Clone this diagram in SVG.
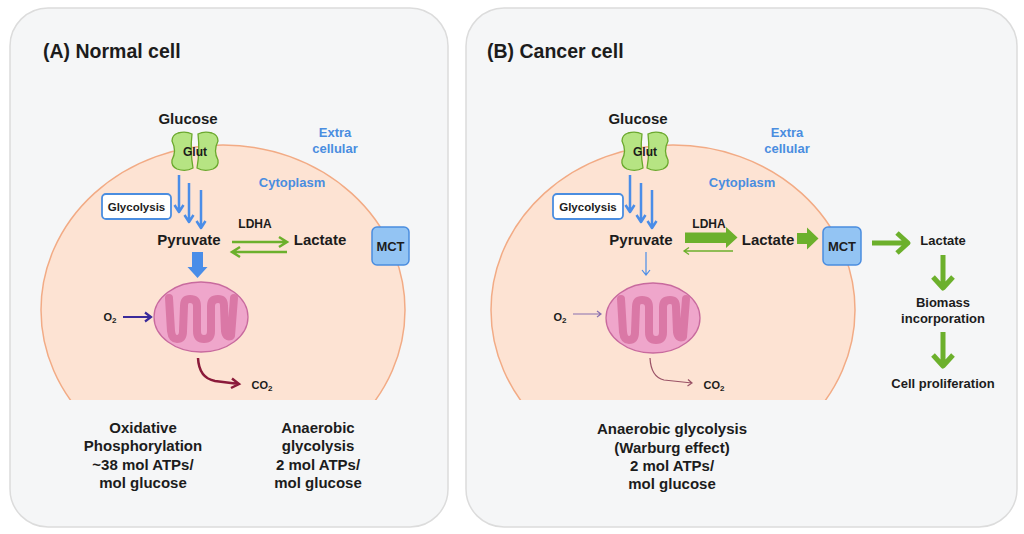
<svg xmlns="http://www.w3.org/2000/svg" width="1024" height="534" viewBox="0 0 1024 534">
<defs>
<style>
text{font-family:"Liberation Sans",Arial,sans-serif;font-weight:bold;fill:#1c1c1c;text-anchor:middle}
.title{font-size:19.5px;text-anchor:start}
.big{font-size:15px}
.med{font-size:13px}
.sm{font-size:12px}
.xs{font-size:11px}
.blue{fill:#4a8de0}
.panel{fill:#f5f6f7;stroke:#dcdcdc;stroke-width:1.5}
.cell{fill:#fde3d3;stroke:#f2ab85;stroke-width:1.5}
.box{fill:#ffffff;stroke:#4a8de0;stroke-width:1.8}
.mct{fill:#93c4f3;stroke:#4a8de0;stroke-width:1.5}
.ba{fill:none;stroke:#4a8de8;stroke-width:2.5;stroke-linejoin:round}
.bat{fill:none;stroke:#4a8de8;stroke-width:1.2}
.ga{fill:none;stroke:#6cb02c;stroke-width:2.5}
.gat{fill:none;stroke:#6cb02c;stroke-width:1.3}
.gthick{fill:none;stroke:#6cb02c;stroke-width:5;stroke-linejoin:round}
.gblock{fill:#6cb02c}
.bblock{fill:#4a8de8}
.o2{fill:none;stroke:#3a2a9a;stroke-width:2.2}
.o2t{fill:none;stroke:#8a70b0;stroke-width:1.2}
.co2{fill:none;stroke:#8b1a3a;stroke-width:2.5}
.co2t{fill:none;stroke:#9a5266;stroke-width:1.2}
.lobe{fill:#b6e483;stroke:#6aa82c;stroke-width:1.3}
.mito{fill:#efa6cb;stroke:#c86a9e;stroke-width:1.3}
.crista{fill:none;stroke:#da78a6;stroke-width:8;stroke-linecap:round;stroke-linejoin:round}
</style>
<clipPath id="clipA"><rect x="0" y="0" width="460" height="400"/></clipPath>
<clipPath id="clipB"><rect x="460" y="0" width="564" height="400"/></clipPath>
<g id="glutShape">
<path class="lobe" d="M178,133 Q186,131 192,134 Q190,151 193,168 Q186,172 177,169 Q171,166 172,160 Q177,151 172,141 Q172,135 178,133 Z"/>
<path class="lobe" d="M212,133 Q204,131 198,134 Q200,151 197,168 Q204,172 213,169 Q219,166 218,160 Q213,151 218,141 Q218,135 212,133 Z"/>
<text class="sm" x="195" y="156">Glut</text>
</g>
<g id="mitoShape">
<ellipse class="mito" cx="201" cy="317" rx="47" ry="35"/>
<path class="crista" d="M169,298 L171,331 Q172,339 177,339 Q183,339 183,331 L184,306 Q184,299 190,299 Q197,299 197,306 L197,331 Q197,339 204,339 Q211,339 211,331 L211,306 Q211,299 218,299 Q224,299 224,306 L225,331 Q226,338 231,336 L234,298"/>
</g>
</defs>

<rect x="0" y="0" width="1024" height="534" fill="#ffffff"/>

<g id="panelA">
<rect class="panel" x="10" y="8" width="438" height="519" rx="38"/>
<text class="title" x="43" y="58">(A) Normal cell</text>
</g>
<g id="cellA" clip-path="url(#clipA)">
<ellipse class="cell" cx="223" cy="310" rx="182" ry="165"/>
</g>

<g id="panelB">
<rect class="panel" x="466" y="8" width="551" height="519" rx="38"/>
<text class="title" x="487" y="58">(B) Cancer cell</text>
</g>
<g id="cellB" clip-path="url(#clipB)">
<ellipse class="cell" cx="673" cy="310" rx="182" ry="165"/>
</g>

<!-- Panel A nodes -->
<g id="glucoseA"><text class="big" x="188" y="124">Glucose</text></g>
<g id="glutA"><use href="#glutShape"/></g>
<g id="extraA"><text class="med blue" x="335" y="137">Extra</text><text class="med blue" x="335" y="153">cellular</text></g>
<g id="cytoA"><text class="med blue" x="292" y="187">Cytoplasm</text></g>
<g id="glycolysisA"><rect class="box" x="102" y="194" width="69" height="25" rx="4"/><text class="xs" x="136.5" y="211" style="font-size:11.5px">Glycolysis</text></g>
<g id="pyruvateA"><text class="big" x="189" y="245">Pyruvate</text></g>
<g id="ldhaA"><text class="sm" x="255" y="228">LDHA</text></g>
<g id="lactateA"><text class="big" x="320" y="245">Lactate</text></g>
<g id="mctA"><rect class="mct" x="372" y="227" width="37" height="38" rx="5"/><text class="med" x="390.5" y="251">MCT</text></g>
<g id="mitoA"><use href="#mitoShape"/></g>
<g id="o2A"><text class="xs" x="110" y="321">O<tspan style="font-size:8px" dy="2">2</tspan></text></g>
<g id="co2A"><text class="xs" x="262" y="389">CO<tspan style="font-size:8px" dy="2">2</tspan></text></g>
<g id="oxphosA">
<text class="big" x="143" y="433">Oxidative</text>
<text class="big" x="143" y="451">Phosphorylation</text>
<text class="big" x="143" y="470">~38 mol ATPs/</text>
<text class="big" x="143" y="488">mol glucose</text>
</g>
<g id="anaerobicA">
<text class="big" x="318" y="433">Anaerobic</text>
<text class="big" x="318" y="451">glycolysis</text>
<text class="big" x="318" y="470">2 mol ATPs/</text>
<text class="big" x="318" y="488">mol glucose</text>
</g>

<!-- Panel B nodes -->
<g id="glucoseB"><text class="big" x="638" y="124">Glucose</text></g>
<g id="glutB"><use href="#glutShape" transform="translate(450,0)"/></g>
<g id="extraB"><text class="med blue" x="787" y="137">Extra</text><text class="med blue" x="787" y="153">cellular</text></g>
<g id="cytoB"><text class="med blue" x="742" y="187">Cytoplasm</text></g>
<g id="glycolysisB"><rect class="box" x="553" y="194" width="70" height="25" rx="4"/><text class="xs" x="588" y="211" style="font-size:11.5px">Glycolysis</text></g>
<g id="pyruvateB"><text class="big" x="641" y="245">Pyruvate</text></g>
<g id="ldhaB"><text class="sm" x="709" y="228">LDHA</text></g>
<g id="lactateB"><text class="big" x="768" y="245">Lactate</text></g>
<g id="mctB"><rect class="mct" x="823" y="227" width="38" height="38" rx="5"/><text class="med" x="842" y="251">MCT</text></g>
<g id="mitoB"><use href="#mitoShape" transform="translate(452,1)"/></g>
<g id="o2B"><text class="xs" x="560" y="321">O<tspan style="font-size:8px" dy="2">2</tspan></text></g>
<g id="co2B"><text class="xs" x="714" y="389">CO<tspan style="font-size:8px" dy="2">2</tspan></text></g>
<g id="lactateOut"><text class="med" x="943" y="245">Lactate</text></g>
<g id="biomass"><text class="med" x="943" y="307">Biomass</text><text class="med" x="943" y="323">incorporation</text></g>
<g id="prolif"><text class="med" x="943" y="388">Cell proliferation</text></g>
<g id="warburg">
<text class="big" x="672" y="434">Anaerobic glycolysis</text>
<text class="big" x="672" y="453">(Warburg effect)</text>
<text class="big" x="672" y="471">2 mol ATPs/</text>
<text class="big" x="672" y="489">mol glucose</text>
</g>

<g id="connectors">
<!-- A: glucose to pyruvate -->
<path class="ba" d="M179,175 L179,212 M174.5,205 L179,212 L183.5,205"/>
<path class="ba" d="M189,183 L189,222 M184.5,215 L189,222 L193.5,215"/>
<path class="ba" d="M201,190 L201,228 M196.5,221 L201,228 L205.5,221"/>
<!-- A: pyruvate to mito block -->
<path class="bblock" d="M192,252 L203,252 L203,267 L207.5,267 L197.5,278 L187.5,267 L192,267 Z"/>
<!-- A: LDHA -->
<path class="ga" d="M232,242 L287,242 M279,237 L287,242 L279,247"/>
<path class="ga" d="M287,252 L232,252 M240,247 L232,252 L240,257"/>
<!-- A: O2 -->
<path class="o2" d="M123,317 L151,317 M145,312.5 L151,317 L145,321.5"/>
<!-- A: CO2 -->
<path class="co2" d="M198,358 Q199,378 215,381 L239,384 M232,378.5 L239,384 L231,388"/>

<!-- B: glucose to pyruvate -->
<path class="ba" d="M630,175 L630,212 M625.5,205 L630,212 L634.5,205"/>
<path class="ba" d="M641,183 L641,222 M636.5,215 L641,222 L645.5,215"/>
<path class="ba" d="M652,190 L652,228 M647.5,221 L652,228 L656.5,221"/>
<!-- B: thin pyruvate to mito -->
<path class="bat" d="M646,252 L646,275 M642,270 L646,275 L650,270"/>
<!-- B: LDHA big block and thin back -->
<path class="gblock" d="M685,232.5 L726,232.5 L726,227 L737.5,237.5 L726,248 L726,243 L685,243 Z"/>
<path class="gat" d="M733,251 L684,251 M689,247.5 L684,251 L689,254.5"/>
<!-- B: lactate to MCT -->
<path class="gblock" d="M797,233 L807,233 L807,227.5 L818.5,238.5 L807,249.5 L807,244 L797,244 Z"/>
<!-- B: MCT to lactate out -->
<path class="gthick" d="M872,243 L908,243 M897,233 L908,243 L897,253"/>
<!-- B: lactate to biomass -->
<path class="gthick" d="M943,255 L943,288 M933,277 L943,288 L953,277"/>
<!-- B: biomass to proliferation -->
<path class="gthick" d="M943,332 L943,366 M933,355 L943,366 L953,355"/>
<!-- B: O2 -->
<path class="o2t" d="M573,314 L601,314 M597,311 L601,314 L597,317"/>
<!-- B: CO2 -->
<path class="co2t" d="M650,358 Q651,377 664,380 L692,383 M688,379.5 L692,383 L687.5,386"/>
</g>
</svg>
